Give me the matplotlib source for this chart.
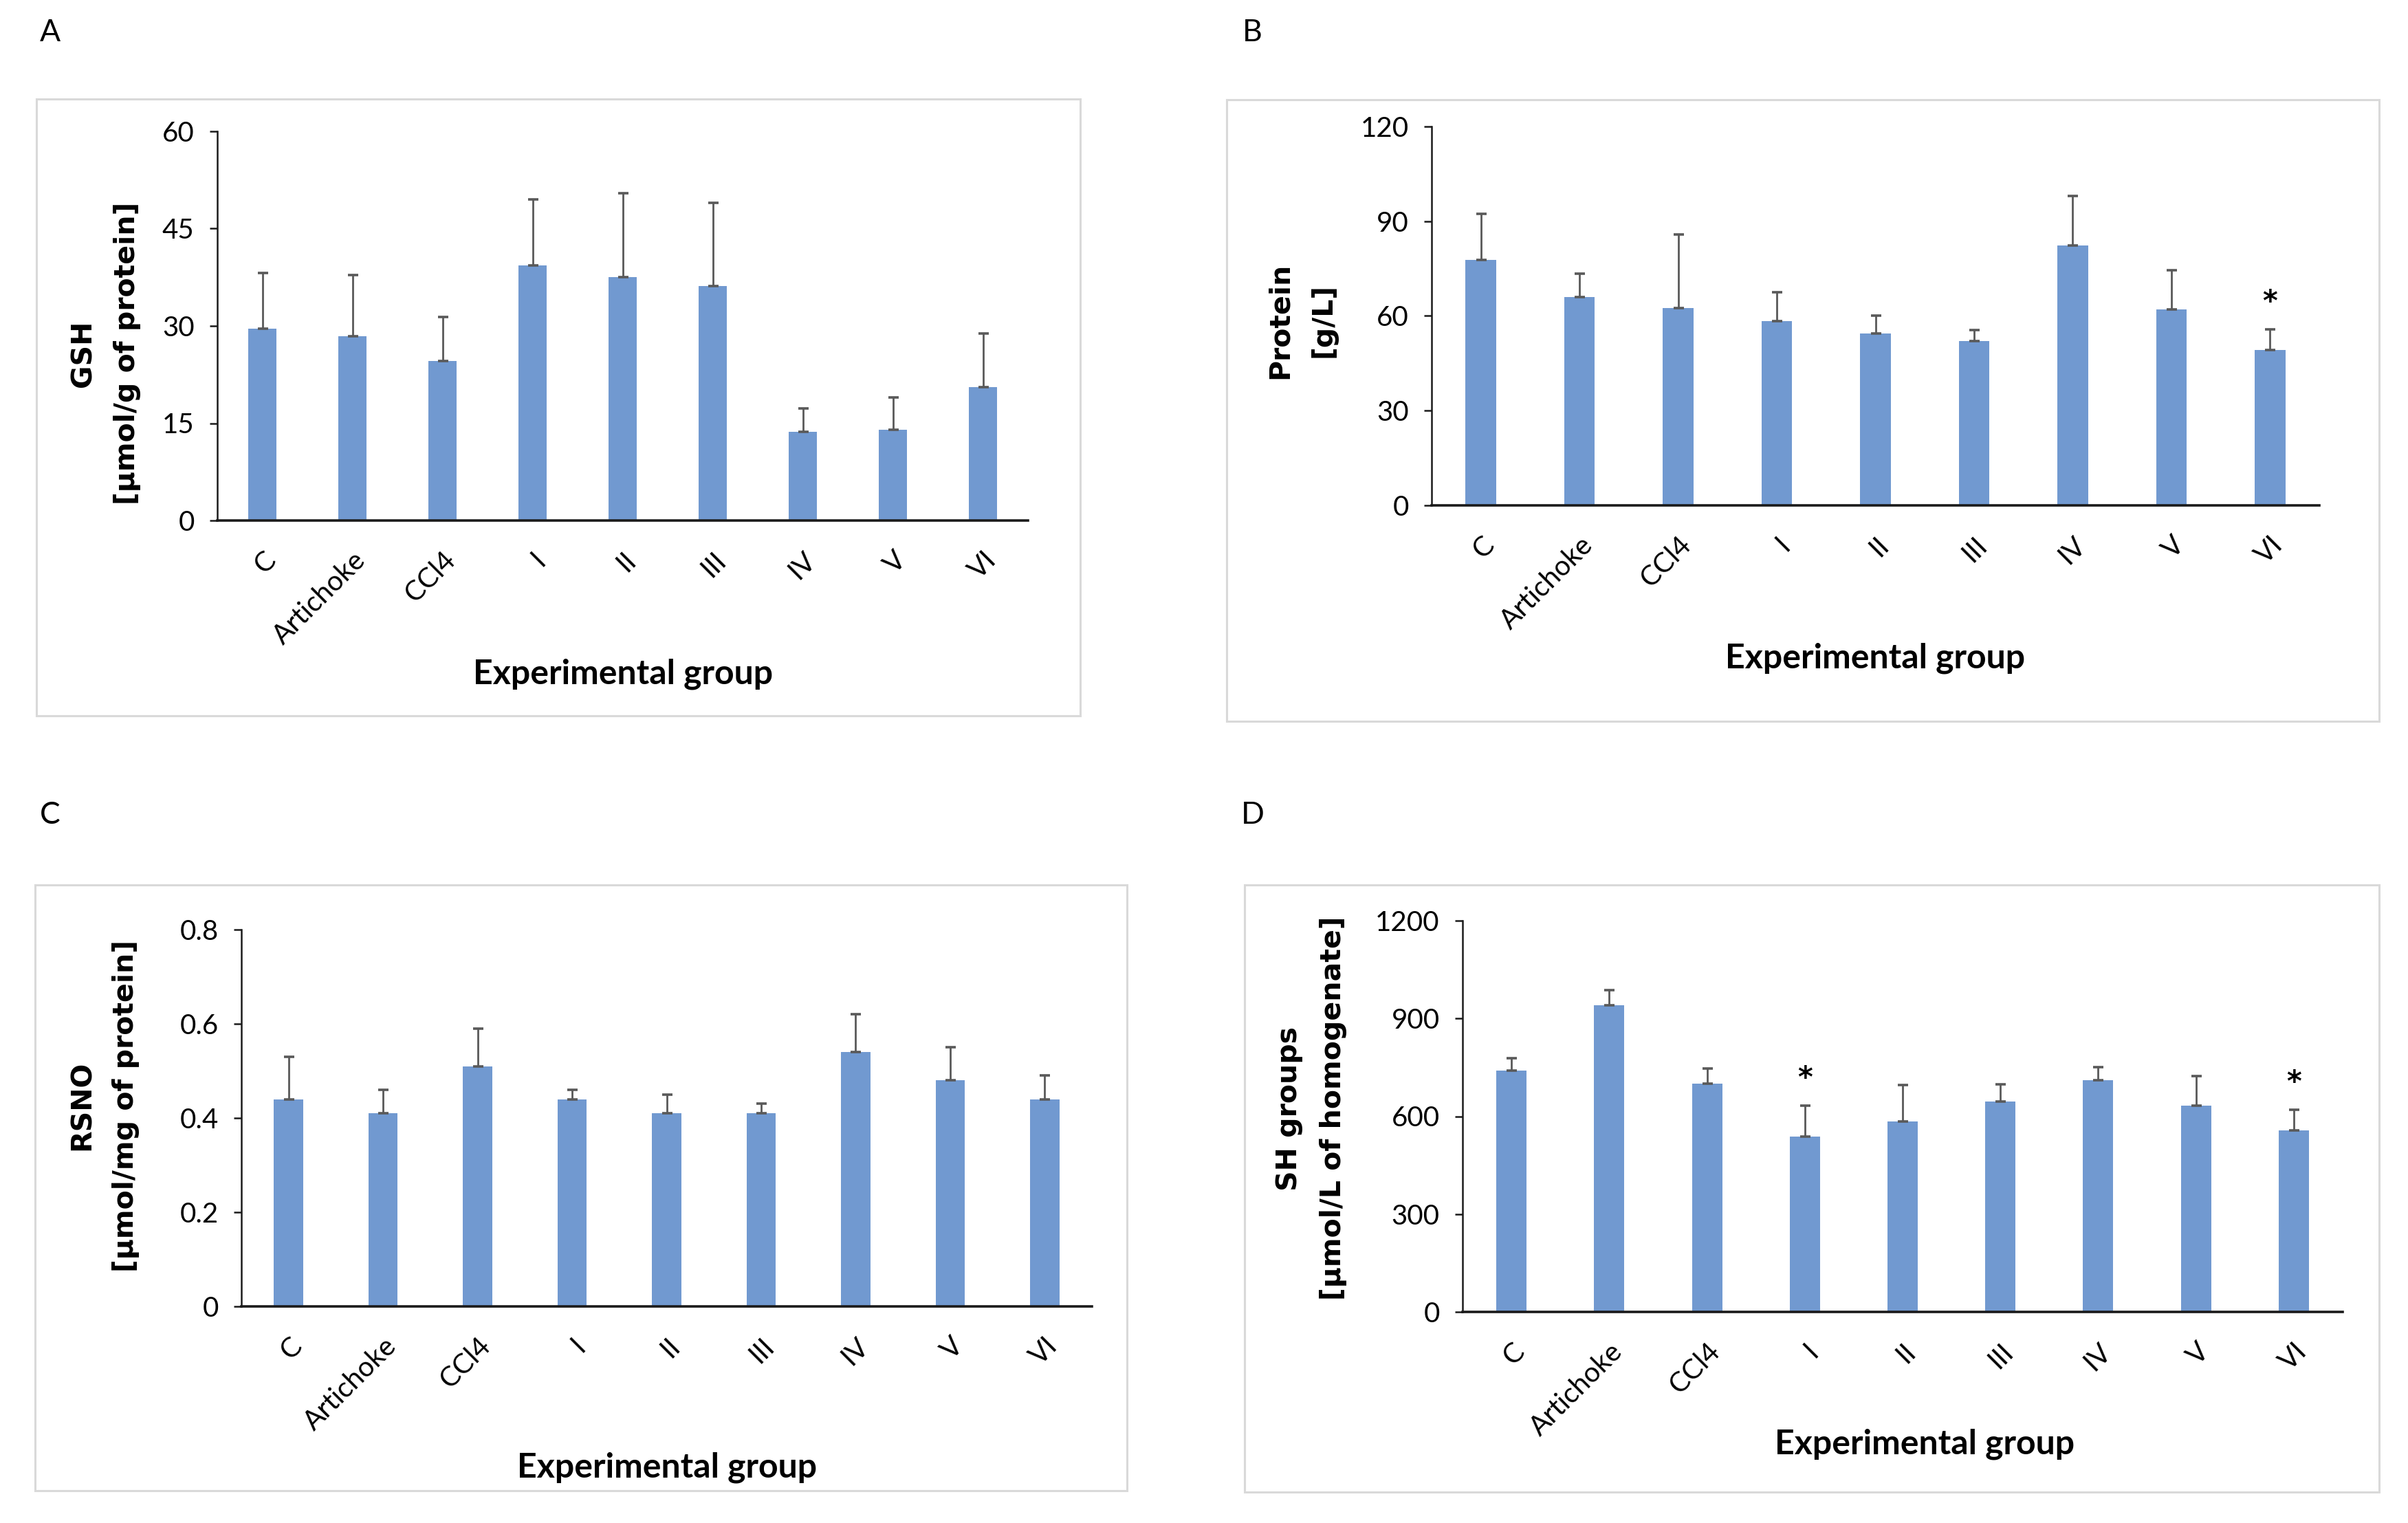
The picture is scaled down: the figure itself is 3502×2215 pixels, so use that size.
import matplotlib
matplotlib.use('Agg')
import matplotlib.pyplot as plt
from matplotlib.patches import Rectangle

W, H = 3502, 2215

groups = ['C', 'Artichoke', 'CCl4', 'I', 'II', 'III', 'IV', 'V', 'VI']

gsh = [29.6, 28.4, 24.6, 39.3, 37.5, 36.2, 13.7, 14.0, 20.6]
gsh_err = [8.6, 9.4, 6.8, 10.2, 13.0, 12.8, 3.6, 5.0, 8.2]

protein = [77.8, 66.0, 62.4, 58.3, 54.5, 52.1, 82.3, 62.1, 49.2]
protein_err = [14.5, 7.5, 23.3, 9.3, 5.7, 3.4, 15.8, 12.4, 6.6]
protein_sig = ['', '', '', '', '', '', '', '', '*']

rsno = [0.44, 0.41, 0.51, 0.44, 0.41, 0.41, 0.54, 0.48, 0.44]
rsno_err = [0.09, 0.05, 0.08, 0.02, 0.04, 0.02, 0.08, 0.07, 0.05]

sh = [740, 941, 700, 538, 584, 646, 711, 633, 557]
sh_err = [39, 46, 47, 95, 113, 52, 39, 90, 63]
sh_sig = ['', '', '', '*', '', '', '', '', '*']

bar_color = '#7199d0'
err_color = '#595959'
tick_font = ['Lato', 'DejaVu Sans']

# panel layout in pixels: frame box, axes box (left, right, top, bottom),
# letter position, ylabel centre, xlabel centre
panels = [
    dict(letter='A', letter_xy=(73, 47), frame=(53, 1571, 144, 1041),
         axes=(316, 1495, 191, 757), ylab_xy=(153, 514), xlab_xy=(906, 980),
         vals=gsh, errs=gsh_err, sig=None, ymax=60, ystep=15, yfmt='{:.0f}',
         ylabel='GSH\n[µmol/g of protein]'),
    dict(letter='B', letter_xy=(1821, 47), frame=(1784, 3460, 145, 1049),
         axes=(2082, 3373, 184, 735), ylab_xy=(1893, 466), xlab_xy=(2727, 957),
         vals=protein, errs=protein_err, sig=protein_sig, ymax=120, ystep=30,
         yfmt='{:.0f}', ylabel='Protein\n[g/L]'),
    dict(letter='C', letter_xy=(73, 1185), frame=(51, 1639, 1287, 2168),
         axes=(351, 1588, 1352, 1900), ylab_xy=(151, 1608), xlab_xy=(970, 2134),
         vals=rsno, errs=rsno_err, sig=None, ymax=0.8, ystep=0.2, yfmt='{:g}',
         ylabel='RSNO\n[µmol/mg of protein]'),
    dict(letter='D', letter_xy=(1822, 1185), frame=(1810, 3460, 1287, 2170),
         axes=(2127, 3407, 1339, 1908), ylab_xy=(1907, 1612), xlab_xy=(2799, 2100),
         vals=sh, errs=sh_err, sig=sh_sig, ymax=1200, ystep=300, yfmt='{:.0f}',
         ylabel='SH groups\n[µmol/L of homogenate]'),
]

fig = plt.figure(figsize=(W / 100, H / 100), dpi=100)
fig.patch.set_facecolor('white')


def fx(px):
    return px / W


def fy(py):
    return 1 - py / H


for p in panels:
    l, r, t, b = p['frame']
    fig.patches.append(Rectangle((fx(l), fy(b)), fx(r - l), (b - t) / H,
                                 transform=fig.transFigure, fill=False,
                                 edgecolor='#d9d9d9', linewidth=2.2))
    fig.text(fx(p['letter_xy'][0]), fy(p['letter_xy'][1]), p['letter'],
             fontsize=32, family=tick_font, ha='center', va='center')

    al, ar, at, ab = p['axes']
    ax = fig.add_axes([fx(al), fy(ab), fx(ar - al), (ab - at) / H])
    x = list(range(len(groups)))
    ax.bar(x, p['vals'], width=0.31, color=bar_color, zorder=2)
    ax.errorbar(x, p['vals'], yerr=[[0] * len(x), p['errs']], fmt='none',
                ecolor=err_color, elinewidth=2.0, capsize=5.4, capthick=2.6,
                zorder=3)
    if p['sig']:
        for xi, v, e, s in zip(x, p['vals'], p['errs'], p['sig']):
            if s:
                ax.annotate(s, (xi, v + e), xytext=(0, 28), textcoords='offset points',
                            ha='center', va='center', fontsize=30,
                            fontweight='bold', family='DejaVu Sans')

    ax.set_xlim(-0.5, len(groups) - 0.5)
    ax.set_ylim(0, p['ymax'])
    ticks = [i * p['ystep'] for i in range(5)]
    ax.set_yticks(ticks)
    ax.set_yticklabels([p['yfmt'].format(round(t_, 2)) for t_ in ticks],
                       family=tick_font, fontsize=29)
    ax.set_xticks(x)
    ax.set_xticklabels(groups, rotation=45, ha='right', rotation_mode='anchor',
                       family=tick_font, fontsize=29)
    ax.tick_params(axis='x', length=0, pad=28)
    ax.tick_params(axis='y', length=8, width=1.8, pad=16, color='#1a1a1a')
    for s in ['top', 'right']:
        ax.spines[s].set_visible(False)
    ax.spines['left'].set_linewidth(1.8)
    ax.spines['left'].set_color('#1a1a1a')
    ax.spines['bottom'].set_linewidth(2.6)
    ax.spines['bottom'].set_color('#1a1a1a')
    ax.spines['bottom'].set_zorder(4)
    ax.set_facecolor('none')

    fig.text(fx(p['ylab_xy'][0]), fy(p['ylab_xy'][1]), p['ylabel'],
             rotation=90, ha='center', va='center', fontsize=29.5,
             fontweight='bold', family='DejaVu Sans', linespacing=1.75,
             multialignment='center')
    fig.text(fx(p['xlab_xy'][0]), fy(p['xlab_xy'][1]), 'Experimental group',
             ha='center', va='center', fontsize=36, fontweight='bold',
             family=tick_font)

fig.savefig('out.png', dpi=100, facecolor='white')
